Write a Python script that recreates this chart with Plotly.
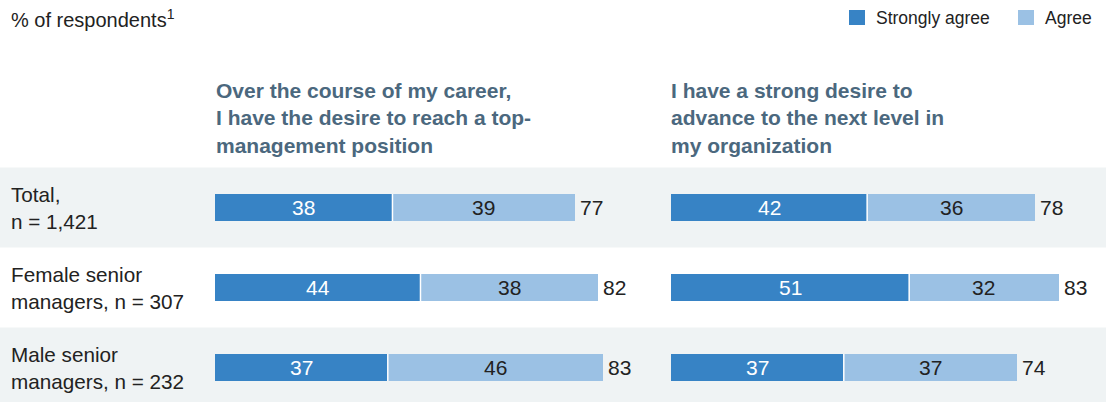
import plotly.graph_objects as go

# Survey data
rows = ["Total,<br>n = 1,421", "Female senior<br>managers, n = 307", "Male senior<br>managers, n = 232"]
q1_title = "Over the course of my career,<br>I have the desire to reach a top-<br>management position"
q2_title = "I have a strong desire to<br>advance to the next level in<br>my organization"
q1_strong = [38, 44, 37]
q1_agree = [39, 38, 46]
q1_total = [77, 82, 83]
q2_strong = [42, 51, 37]
q2_agree = [36, 32, 37]
q2_total = [78, 83, 74]

DARK = "#3783c5"
LIGHT = "#9bc1e4"
BAND = "#eff3f4"
TITLE_C = "#4b687e"
TEXT_C = "#222222"
FONT = "Liberation Sans, Arial, sans-serif"

W, H = 1113, 402
PX_PER_UNIT = 4.67
ypos = list(range(len(rows)))
BAR_W = 27 / 80

fig = go.Figure()

panels = [
    ("x", q1_strong, q1_agree, q1_total),
    ("x2", q2_strong, q2_agree, q2_total),
]


def label(xref, x, y, txt, color, anchor="center", shift=0):
    fig.add_annotation(x=x, y=y, xref=xref, yref="y", text=txt,
                       showarrow=False, xanchor=anchor, xshift=shift,
                       yanchor="middle",
                       font=dict(size=21, color=color, family=FONT))


for xref, strong, agree, total in panels:
    fig.add_trace(go.Bar(
        x=strong, y=ypos, base=0, orientation="h", width=BAR_W,
        marker=dict(color=DARK, line=dict(width=0)),
        xaxis=xref, yaxis="y", showlegend=False, hoverinfo="skip",
    ))
    fig.add_trace(go.Bar(
        x=agree, y=ypos, base=strong, orientation="h", width=BAR_W,
        marker=dict(color=LIGHT, line=dict(width=0)),
        xaxis=xref, yaxis="y", showlegend=False, hoverinfo="skip",
    ))
    for yi, (s, a, t) in enumerate(zip(strong, agree, total)):
        # thin white separator between the two segments
        fig.add_shape(type="line", xref=xref, yref="y",
                      x0=s, x1=s, y0=yi - BAR_W / 2, y1=yi + BAR_W / 2,
                      line=dict(color="#ffffff", width=1.5), layer="above")
        label(xref, s / 2, yi, str(s), "#ffffff")
        label(xref, s + a / 2, yi, str(a), TEXT_C)
        label(xref, t, yi, str(t), TEXT_C, anchor="left", shift=3)

# y axis: rows 80 px apart, first row centred at 207.5 px from top
y_top = -207.5 / 80
y_bot = (H - 207.5) / 80

# background bands for first and third rows
for yi in (0, 2):
    fig.add_shape(type="rect", xref="paper", yref="y",
                  x0=0, x1=1106 / W, y0=yi - 0.5, y1=yi + 0.5,
                  fillcolor=BAND, line=dict(width=0), layer="below")

# row labels
for yi, lab in enumerate(rows):
    fig.add_annotation(x=9 / W, y=yi, xref="paper", yref="y", text=lab,
                       showarrow=False, xanchor="left", yanchor="middle", align="left",
                       font=dict(size=20.7, color=TEXT_C, family=FONT))

# column titles
for xpix, t in ((214, q1_title), (669, q2_title)):
    fig.add_annotation(x=xpix / W, y=1 - 118 / H, xref="paper", yref="paper",
                       text="<b>" + t + "</b>", showarrow=False,
                       xanchor="left", yanchor="middle", align="left",
                       font=dict(size=21, color=TITLE_C, family=FONT))

# unit note
fig.add_annotation(x=9 / W, y=1 - 18 / H, xref="paper", yref="paper",
                   text="% of respondents<sup>1</sup>", showarrow=False,
                   xanchor="left", yanchor="middle",
                   font=dict(size=20, color=TEXT_C, family=FONT))

# legend
for x0, name, col in ((849, "Strongly agree", DARK), (1018, "Agree", LIGHT)):
    fig.add_shape(type="rect", xref="paper", yref="paper",
                  x0=x0 / W, x1=(x0 + 16) / W, y0=1 - 25 / H, y1=1 - 10 / H,
                  fillcolor=col, line=dict(width=0))
    fig.add_annotation(x=(x0 + 25) / W, y=1 - 18 / H, xref="paper", yref="paper",
                       text=name, showarrow=False, xanchor="left", yanchor="middle",
                       font=dict(size=17.5, color=TEXT_C, family=FONT))

axis_common = dict(showgrid=False, zeroline=False, showticklabels=False,
                   showline=False, ticks="", fixedrange=True)
fig.update_layout(
    width=W, height=H,
    margin=dict(l=0, r=0, t=0, b=0),
    paper_bgcolor="#ffffff", plot_bgcolor="rgba(0,0,0,0)",
    barmode="overlay", bargap=0,
    xaxis=dict(domain=[0, 1], range=[-215 / PX_PER_UNIT, (W - 215) / PX_PER_UNIT], **axis_common),
    xaxis2=dict(domain=[0, 1], range=[-671 / PX_PER_UNIT, (W - 671) / PX_PER_UNIT],
                overlaying="x", **axis_common),
    yaxis=dict(range=[y_bot, y_top], **axis_common),
)

fig.write_html("out.html")
